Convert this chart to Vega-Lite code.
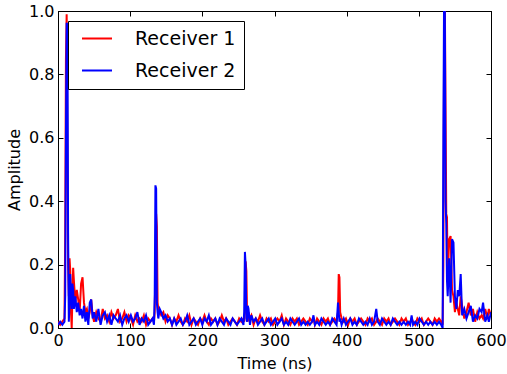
{
  "$schema": "https://vega.github.io/schema/vega-lite/v6.json",
  "autosize": {"type": "none"},
  "width": 433,
  "height": 317,
  "padding": {"left": 58, "top": 11, "right": 16, "bottom": 46},
  "background": "white",
  "config": {
    "view": {"stroke": "black", "strokeWidth": 1},
    "font": "DejaVu Sans",
    "axis": {
      "grid": false,
      "domainColor": "black",
      "tickColor": "black",
      "tickSize": -5,
      "labelFont": "DejaVu Sans",
      "labelFontSize": 16,
      "labelColor": "black",
      "titleFont": "DejaVu Sans",
      "titleFontSize": 16,
      "titleFontWeight": "normal",
      "titleColor": "black"
    }
  },
  "data": {
    "values": [
      {"t": 0, "Receiver 1": 0.02, "Receiver 2": 0.01},
      {"t": 3, "Receiver 1": 0.01, "Receiver 2": 0.02},
      {"t": 6, "Receiver 1": 0.02, "Receiver 2": 0.01},
      {"t": 9, "Receiver 1": 0.03, "Receiver 2": 0.02},
      {"t": 10, "Receiver 1": 0.30, "Receiver 2": 0.10},
      {"t": 11, "Receiver 1": 0.85, "Receiver 2": 0.60},
      {"t": 12, "Receiver 1": 0.99, "Receiver 2": 0.96},
      {"t": 13, "Receiver 1": 0.60, "Receiver 2": 0.96},
      {"t": 14, "Receiver 1": 0.20, "Receiver 2": 0.30},
      {"t": 15, "Receiver 1": 0.10, "Receiver 2": 0.02},
      {"t": 16, "Receiver 1": 0.22, "Receiver 2": 0.08},
      {"t": 17, "Receiver 1": 0.18, "Receiver 2": 0.17},
      {"t": 18, "Receiver 1": 0.05, "Receiver 2": 0.10},
      {"t": 19, "Receiver 1": 0.00, "Receiver 2": 0.06},
      {"t": 20, "Receiver 1": 0.10, "Receiver 2": 0.14},
      {"t": 21, "Receiver 1": 0.19, "Receiver 2": 0.12},
      {"t": 22, "Receiver 1": 0.15, "Receiver 2": 0.06},
      {"t": 24, "Receiver 1": 0.08, "Receiver 2": 0.10},
      {"t": 26, "Receiver 1": 0.12, "Receiver 2": 0.05},
      {"t": 28, "Receiver 1": 0.09, "Receiver 2": 0.08},
      {"t": 30, "Receiver 1": 0.05, "Receiver 2": 0.04},
      {"t": 32, "Receiver 1": 0.14, "Receiver 2": 0.06},
      {"t": 34, "Receiver 1": 0.16, "Receiver 2": 0.03},
      {"t": 36, "Receiver 1": 0.08, "Receiver 2": 0.07},
      {"t": 38, "Receiver 1": 0.05, "Receiver 2": 0.02},
      {"t": 40, "Receiver 1": 0.06, "Receiver 2": 0.05},
      {"t": 42, "Receiver 1": 0.03, "Receiver 2": 0.01},
      {"t": 44, "Receiver 1": 0.05, "Receiver 2": 0.08},
      {"t": 46, "Receiver 1": 0.09, "Receiver 2": 0.09},
      {"t": 48, "Receiver 1": 0.04, "Receiver 2": 0.03},
      {"t": 50, "Receiver 1": 0.02, "Receiver 2": 0.05},
      {"t": 53, "Receiver 1": 0.05, "Receiver 2": 0.02},
      {"t": 56, "Receiver 1": 0.03, "Receiver 2": 0.06},
      {"t": 59, "Receiver 1": 0.02, "Receiver 2": 0.01},
      {"t": 62, "Receiver 1": 0.06, "Receiver 2": 0.04},
      {"t": 65, "Receiver 1": 0.03, "Receiver 2": 0.05},
      {"t": 68, "Receiver 1": 0.04, "Receiver 2": 0.02},
      {"t": 71, "Receiver 1": 0.02, "Receiver 2": 0.04},
      {"t": 74, "Receiver 1": 0.05, "Receiver 2": 0.01},
      {"t": 77, "Receiver 1": 0.03, "Receiver 2": 0.04},
      {"t": 80, "Receiver 1": 0.04, "Receiver 2": 0.03},
      {"t": 83, "Receiver 1": 0.06, "Receiver 2": 0.02},
      {"t": 86, "Receiver 1": 0.02, "Receiver 2": 0.04},
      {"t": 89, "Receiver 1": 0.03, "Receiver 2": 0.01},
      {"t": 92, "Receiver 1": 0.05, "Receiver 2": 0.03},
      {"t": 95, "Receiver 1": 0.02, "Receiver 2": 0.04},
      {"t": 98, "Receiver 1": 0.04, "Receiver 2": 0.02},
      {"t": 101, "Receiver 1": 0.03, "Receiver 2": 0.04},
      {"t": 104, "Receiver 1": 0.01, "Receiver 2": 0.02},
      {"t": 107, "Receiver 1": 0.04, "Receiver 2": 0.03},
      {"t": 110, "Receiver 1": 0.02, "Receiver 2": 0.05},
      {"t": 113, "Receiver 1": 0.03, "Receiver 2": 0.01},
      {"t": 116, "Receiver 1": 0.02, "Receiver 2": 0.03},
      {"t": 119, "Receiver 1": 0.04, "Receiver 2": 0.02},
      {"t": 122, "Receiver 1": 0.01, "Receiver 2": 0.04},
      {"t": 125, "Receiver 1": 0.03, "Receiver 2": 0.01},
      {"t": 128, "Receiver 1": 0.02, "Receiver 2": 0.02},
      {"t": 131, "Receiver 1": 0.03, "Receiver 2": 0.03},
      {"t": 133, "Receiver 1": 0.02, "Receiver 2": 0.01},
      {"t": 134, "Receiver 1": 0.05, "Receiver 2": 0.10},
      {"t": 135, "Receiver 1": 0.20, "Receiver 2": 0.45},
      {"t": 136, "Receiver 1": 0.36, "Receiver 2": 0.44},
      {"t": 137, "Receiver 1": 0.32, "Receiver 2": 0.08},
      {"t": 138, "Receiver 1": 0.08, "Receiver 2": 0.05},
      {"t": 139, "Receiver 1": 0.06, "Receiver 2": 0.03},
      {"t": 141, "Receiver 1": 0.05, "Receiver 2": 0.06},
      {"t": 143, "Receiver 1": 0.04, "Receiver 2": 0.05},
      {"t": 146, "Receiver 1": 0.05, "Receiver 2": 0.03},
      {"t": 149, "Receiver 1": 0.02, "Receiver 2": 0.04},
      {"t": 152, "Receiver 1": 0.04, "Receiver 2": 0.02},
      {"t": 155, "Receiver 1": 0.03, "Receiver 2": 0.03},
      {"t": 158, "Receiver 1": 0.01, "Receiver 2": 0.01},
      {"t": 161, "Receiver 1": 0.03, "Receiver 2": 0.03},
      {"t": 164, "Receiver 1": 0.02, "Receiver 2": 0.01},
      {"t": 167, "Receiver 1": 0.04, "Receiver 2": 0.02},
      {"t": 170, "Receiver 1": 0.02, "Receiver 2": 0.03},
      {"t": 173, "Receiver 1": 0.01, "Receiver 2": 0.01},
      {"t": 176, "Receiver 1": 0.03, "Receiver 2": 0.02},
      {"t": 179, "Receiver 1": 0.02, "Receiver 2": 0.04},
      {"t": 182, "Receiver 1": 0.04, "Receiver 2": 0.01},
      {"t": 185, "Receiver 1": 0.01, "Receiver 2": 0.02},
      {"t": 188, "Receiver 1": 0.03, "Receiver 2": 0.03},
      {"t": 191, "Receiver 1": 0.02, "Receiver 2": 0.01},
      {"t": 194, "Receiver 1": 0.01, "Receiver 2": 0.02},
      {"t": 197, "Receiver 1": 0.03, "Receiver 2": 0.03},
      {"t": 200, "Receiver 1": 0.02, "Receiver 2": 0.01},
      {"t": 203, "Receiver 1": 0.04, "Receiver 2": 0.03},
      {"t": 206, "Receiver 1": 0.02, "Receiver 2": 0.02},
      {"t": 209, "Receiver 1": 0.01, "Receiver 2": 0.04},
      {"t": 212, "Receiver 1": 0.03, "Receiver 2": 0.01},
      {"t": 215, "Receiver 1": 0.02, "Receiver 2": 0.02},
      {"t": 218, "Receiver 1": 0.03, "Receiver 2": 0.03},
      {"t": 221, "Receiver 1": 0.01, "Receiver 2": 0.01},
      {"t": 224, "Receiver 1": 0.02, "Receiver 2": 0.03},
      {"t": 227, "Receiver 1": 0.04, "Receiver 2": 0.02},
      {"t": 230, "Receiver 1": 0.02, "Receiver 2": 0.01},
      {"t": 233, "Receiver 1": 0.03, "Receiver 2": 0.03},
      {"t": 236, "Receiver 1": 0.01, "Receiver 2": 0.02},
      {"t": 239, "Receiver 1": 0.02, "Receiver 2": 0.01},
      {"t": 242, "Receiver 1": 0.03, "Receiver 2": 0.03},
      {"t": 245, "Receiver 1": 0.02, "Receiver 2": 0.02},
      {"t": 248, "Receiver 1": 0.01, "Receiver 2": 0.01},
      {"t": 251, "Receiver 1": 0.03, "Receiver 2": 0.02},
      {"t": 254, "Receiver 1": 0.02, "Receiver 2": 0.03},
      {"t": 257, "Receiver 1": 0.03, "Receiver 2": 0.01},
      {"t": 258, "Receiver 1": 0.02, "Receiver 2": 0.05},
      {"t": 259, "Receiver 1": 0.05, "Receiver 2": 0.24},
      {"t": 260, "Receiver 1": 0.21, "Receiver 2": 0.20},
      {"t": 261, "Receiver 1": 0.18, "Receiver 2": 0.03},
      {"t": 262, "Receiver 1": 0.04, "Receiver 2": 0.02},
      {"t": 263, "Receiver 1": 0.02, "Receiver 2": 0.07},
      {"t": 264, "Receiver 1": 0.05, "Receiver 2": 0.06},
      {"t": 266, "Receiver 1": 0.03, "Receiver 2": 0.01},
      {"t": 268, "Receiver 1": 0.04, "Receiver 2": 0.04},
      {"t": 271, "Receiver 1": 0.01, "Receiver 2": 0.02},
      {"t": 274, "Receiver 1": 0.03, "Receiver 2": 0.03},
      {"t": 277, "Receiver 1": 0.02, "Receiver 2": 0.01},
      {"t": 280, "Receiver 1": 0.04, "Receiver 2": 0.02},
      {"t": 283, "Receiver 1": 0.02, "Receiver 2": 0.03},
      {"t": 286, "Receiver 1": 0.01, "Receiver 2": 0.01},
      {"t": 289, "Receiver 1": 0.03, "Receiver 2": 0.02},
      {"t": 292, "Receiver 1": 0.02, "Receiver 2": 0.03},
      {"t": 295, "Receiver 1": 0.03, "Receiver 2": 0.01},
      {"t": 298, "Receiver 1": 0.01, "Receiver 2": 0.02},
      {"t": 301, "Receiver 1": 0.02, "Receiver 2": 0.03},
      {"t": 304, "Receiver 1": 0.03, "Receiver 2": 0.01},
      {"t": 307, "Receiver 1": 0.02, "Receiver 2": 0.02},
      {"t": 310, "Receiver 1": 0.04, "Receiver 2": 0.03},
      {"t": 313, "Receiver 1": 0.01, "Receiver 2": 0.01},
      {"t": 316, "Receiver 1": 0.03, "Receiver 2": 0.02},
      {"t": 319, "Receiver 1": 0.02, "Receiver 2": 0.01},
      {"t": 322, "Receiver 1": 0.01, "Receiver 2": 0.03},
      {"t": 325, "Receiver 1": 0.03, "Receiver 2": 0.02},
      {"t": 328, "Receiver 1": 0.02, "Receiver 2": 0.01},
      {"t": 331, "Receiver 1": 0.03, "Receiver 2": 0.02},
      {"t": 334, "Receiver 1": 0.01, "Receiver 2": 0.03},
      {"t": 337, "Receiver 1": 0.02, "Receiver 2": 0.01},
      {"t": 340, "Receiver 1": 0.03, "Receiver 2": 0.02},
      {"t": 343, "Receiver 1": 0.02, "Receiver 2": 0.01},
      {"t": 346, "Receiver 1": 0.01, "Receiver 2": 0.02},
      {"t": 349, "Receiver 1": 0.03, "Receiver 2": 0.01},
      {"t": 352, "Receiver 1": 0.02, "Receiver 2": 0.02},
      {"t": 354, "Receiver 1": 0.03, "Receiver 2": 0.04},
      {"t": 356, "Receiver 1": 0.01, "Receiver 2": 0.01},
      {"t": 359, "Receiver 1": 0.03, "Receiver 2": 0.02},
      {"t": 362, "Receiver 1": 0.02, "Receiver 2": 0.01},
      {"t": 365, "Receiver 1": 0.01, "Receiver 2": 0.03},
      {"t": 368, "Receiver 1": 0.03, "Receiver 2": 0.02},
      {"t": 371, "Receiver 1": 0.02, "Receiver 2": 0.01},
      {"t": 374, "Receiver 1": 0.03, "Receiver 2": 0.02},
      {"t": 377, "Receiver 1": 0.01, "Receiver 2": 0.01},
      {"t": 380, "Receiver 1": 0.02, "Receiver 2": 0.03},
      {"t": 383, "Receiver 1": 0.03, "Receiver 2": 0.02},
      {"t": 386, "Receiver 1": 0.02, "Receiver 2": 0.01},
      {"t": 388, "Receiver 1": 0.05, "Receiver 2": 0.08},
      {"t": 389, "Receiver 1": 0.17, "Receiver 2": 0.05},
      {"t": 390, "Receiver 1": 0.16, "Receiver 2": 0.02},
      {"t": 391, "Receiver 1": 0.05, "Receiver 2": 0.03},
      {"t": 393, "Receiver 1": 0.03, "Receiver 2": 0.01},
      {"t": 396, "Receiver 1": 0.02, "Receiver 2": 0.03},
      {"t": 399, "Receiver 1": 0.03, "Receiver 2": 0.01},
      {"t": 402, "Receiver 1": 0.01, "Receiver 2": 0.02},
      {"t": 405, "Receiver 1": 0.03, "Receiver 2": 0.03},
      {"t": 408, "Receiver 1": 0.02, "Receiver 2": 0.01},
      {"t": 411, "Receiver 1": 0.03, "Receiver 2": 0.02},
      {"t": 414, "Receiver 1": 0.01, "Receiver 2": 0.01},
      {"t": 417, "Receiver 1": 0.02, "Receiver 2": 0.03},
      {"t": 420, "Receiver 1": 0.03, "Receiver 2": 0.02},
      {"t": 423, "Receiver 1": 0.02, "Receiver 2": 0.01},
      {"t": 426, "Receiver 1": 0.01, "Receiver 2": 0.02},
      {"t": 429, "Receiver 1": 0.03, "Receiver 2": 0.01},
      {"t": 432, "Receiver 1": 0.02, "Receiver 2": 0.03},
      {"t": 435, "Receiver 1": 0.03, "Receiver 2": 0.01},
      {"t": 438, "Receiver 1": 0.01, "Receiver 2": 0.02},
      {"t": 441, "Receiver 1": 0.02, "Receiver 2": 0.06},
      {"t": 443, "Receiver 1": 0.03, "Receiver 2": 0.02},
      {"t": 446, "Receiver 1": 0.02, "Receiver 2": 0.01},
      {"t": 449, "Receiver 1": 0.01, "Receiver 2": 0.03},
      {"t": 452, "Receiver 1": 0.03, "Receiver 2": 0.02},
      {"t": 455, "Receiver 1": 0.02, "Receiver 2": 0.01},
      {"t": 458, "Receiver 1": 0.03, "Receiver 2": 0.02},
      {"t": 461, "Receiver 1": 0.01, "Receiver 2": 0.01},
      {"t": 464, "Receiver 1": 0.02, "Receiver 2": 0.03},
      {"t": 467, "Receiver 1": 0.03, "Receiver 2": 0.02},
      {"t": 470, "Receiver 1": 0.02, "Receiver 2": 0.01},
      {"t": 473, "Receiver 1": 0.01, "Receiver 2": 0.02},
      {"t": 476, "Receiver 1": 0.03, "Receiver 2": 0.01},
      {"t": 479, "Receiver 1": 0.02, "Receiver 2": 0.02},
      {"t": 482, "Receiver 1": 0.03, "Receiver 2": 0.01},
      {"t": 485, "Receiver 1": 0.01, "Receiver 2": 0.02},
      {"t": 488, "Receiver 1": 0.02, "Receiver 2": 0.01},
      {"t": 490, "Receiver 1": 0.03, "Receiver 2": 0.04},
      {"t": 492, "Receiver 1": 0.02, "Receiver 2": 0.01},
      {"t": 495, "Receiver 1": 0.01, "Receiver 2": 0.02},
      {"t": 498, "Receiver 1": 0.03, "Receiver 2": 0.01},
      {"t": 501, "Receiver 1": 0.02, "Receiver 2": 0.03},
      {"t": 504, "Receiver 1": 0.03, "Receiver 2": 0.02},
      {"t": 507, "Receiver 1": 0.01, "Receiver 2": 0.01},
      {"t": 510, "Receiver 1": 0.02, "Receiver 2": 0.02},
      {"t": 513, "Receiver 1": 0.03, "Receiver 2": 0.01},
      {"t": 516, "Receiver 1": 0.02, "Receiver 2": 0.02},
      {"t": 519, "Receiver 1": 0.01, "Receiver 2": 0.01},
      {"t": 522, "Receiver 1": 0.03, "Receiver 2": 0.02},
      {"t": 525, "Receiver 1": 0.02, "Receiver 2": 0.01},
      {"t": 528, "Receiver 1": 0.03, "Receiver 2": 0.02},
      {"t": 531, "Receiver 1": 0.02, "Receiver 2": 0.01},
      {"t": 533, "Receiver 1": 0.01, "Receiver 2": 0.00},
      {"t": 534, "Receiver 1": 0.20, "Receiver 2": 0.60},
      {"t": 535, "Receiver 1": 0.90, "Receiver 2": 1.05},
      {"t": 536, "Receiver 1": 1.05, "Receiver 2": 1.05},
      {"t": 537, "Receiver 1": 0.70, "Receiver 2": 0.40},
      {"t": 538, "Receiver 1": 0.36, "Receiver 2": 0.33},
      {"t": 539, "Receiver 1": 0.35, "Receiver 2": 0.15},
      {"t": 540, "Receiver 1": 0.15, "Receiver 2": 0.10},
      {"t": 542, "Receiver 1": 0.28, "Receiver 2": 0.22},
      {"t": 544, "Receiver 1": 0.29, "Receiver 2": 0.08},
      {"t": 546, "Receiver 1": 0.12, "Receiver 2": 0.28},
      {"t": 548, "Receiver 1": 0.10, "Receiver 2": 0.27},
      {"t": 550, "Receiver 1": 0.05, "Receiver 2": 0.10},
      {"t": 552, "Receiver 1": 0.08, "Receiver 2": 0.06},
      {"t": 554, "Receiver 1": 0.06, "Receiver 2": 0.12},
      {"t": 556, "Receiver 1": 0.04, "Receiver 2": 0.10},
      {"t": 558, "Receiver 1": 0.10, "Receiver 2": 0.17},
      {"t": 560, "Receiver 1": 0.07, "Receiver 2": 0.04},
      {"t": 563, "Receiver 1": 0.03, "Receiver 2": 0.06},
      {"t": 566, "Receiver 1": 0.05, "Receiver 2": 0.03},
      {"t": 569, "Receiver 1": 0.08, "Receiver 2": 0.05},
      {"t": 572, "Receiver 1": 0.04, "Receiver 2": 0.07},
      {"t": 575, "Receiver 1": 0.06, "Receiver 2": 0.02},
      {"t": 578, "Receiver 1": 0.02, "Receiver 2": 0.04},
      {"t": 581, "Receiver 1": 0.05, "Receiver 2": 0.03},
      {"t": 584, "Receiver 1": 0.03, "Receiver 2": 0.06},
      {"t": 587, "Receiver 1": 0.04, "Receiver 2": 0.05},
      {"t": 589, "Receiver 1": 0.03, "Receiver 2": 0.08},
      {"t": 592, "Receiver 1": 0.06, "Receiver 2": 0.02},
      {"t": 595, "Receiver 1": 0.03, "Receiver 2": 0.04},
      {"t": 597, "Receiver 1": 0.06, "Receiver 2": 0.02},
      {"t": 600, "Receiver 1": 0.04, "Receiver 2": 0.05}
    ]
  },
  "transform": [
    {"fold": ["Receiver 1", "Receiver 2"], "as": ["receiver", "amp"]}
  ],
  "layer": [
    {
      "mark": {"type": "line", "strokeWidth": 2, "clip": true},
      "encoding": {
        "x": {
          "field": "t", "type": "quantitative",
          "scale": {"domain": [0, 600], "nice": false, "zero": false},
          "axis": {"title": "Time (ns)", "values": [0, 100, 200, 300, 400, 500, 600], "labelPadding": 9, "titlePadding": 7, "labelFlush": false}
        },
        "y": {
          "field": "amp", "type": "quantitative",
          "scale": {"domain": [0, 1], "nice": false},
          "axis": {"title": "Amplitude", "values": [0, 0.2, 0.4, 0.6, 0.8, 1.0], "format": ".1f", "labelPadding": 9, "titlePadding": 6, "labelFlush": false}
        },
        "color": {
          "field": "receiver", "type": "nominal",
          "scale": {"domain": ["Receiver 1", "Receiver 2"], "range": ["#ff0000", "#0000ff"]},
          "legend": {
            "title": null,
            "orient": "top-left",
            "offset": 10,
            "padding": 8,
            "strokeColor": "black",
            "fillColor": "white",
            "cornerRadius": 0,
            "symbolType": "stroke",
            "symbolSize": 900,
            "symbolStrokeWidth": 2,
            "symbolOffset": 5,
            "clipHeight": 19,
            "rowPadding": 12,
            "labelOffset": 22,
            "labelFontSize": 19,
            "labelFont": "DejaVu Sans",
            "labelColor": "black"
          }
        }
      }
    },
    {
      "mark": {"type": "line", "opacity": 0},
      "encoding": {
        "x": {
          "field": "t", "type": "quantitative",
          "axis": {"orient": "top", "title": null, "labels": false, "values": [0, 100, 200, 300, 400, 500, 600]}
        },
        "y": {
          "field": "amp", "type": "quantitative",
          "axis": {"orient": "right", "title": null, "labels": false, "values": [0, 0.2, 0.4, 0.6, 0.8, 1.0]}
        }
      }
    }
  ],
  "resolve": {"axis": {"x": "independent", "y": "independent"}}
}
